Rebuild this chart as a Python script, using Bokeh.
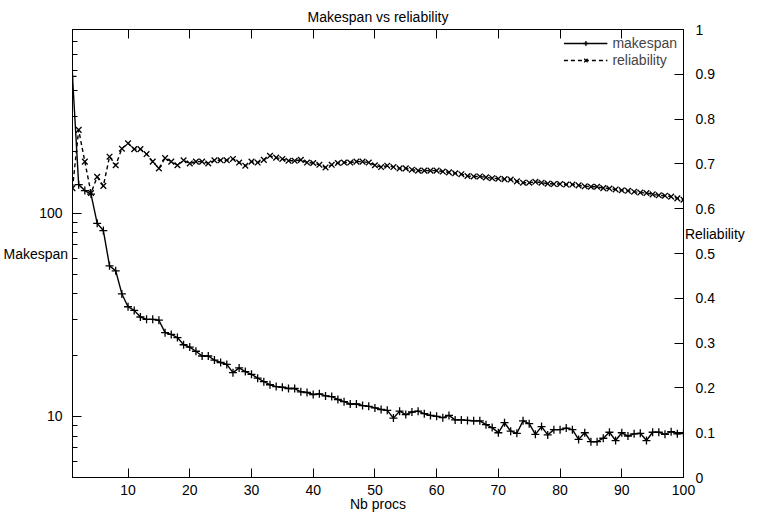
from bokeh.plotting import figure
from bokeh.models import (Range1d, LinearAxis, LinearScale, FixedTicker, PrintfTickFormatter,
                          Legend, LegendItem, ColumnDataSource)
from bokeh.embed import file_html
from bokeh.resources import INLINE

FONT = "Liberation Sans"

nb_procs = list(range(1, 101))

makespan = [
    470, 138, 129, 124, 89, 82, 55, 52, 40, 34.6,
    33.2, 30.8, 30.0, 30.0, 29.7, 25.8, 25.3, 24.4, 22.5, 21.9,
    20.9, 19.8, 19.8, 18.9, 18.4, 18.0, 16.4, 17.3, 16.6, 16.1,
    15.4, 14.8, 14.3, 14.0, 13.9, 13.7, 13.7, 13.2, 13.1, 12.8,
    12.9, 12.6, 12.5, 12.1, 11.8, 11.5, 11.5, 11.3, 11.2, 11.0,
    10.8, 10.7, 9.8, 10.6, 10.2, 10.5, 10.6, 10.3, 10.1, 10.0,
    9.85, 10.1, 9.6, 9.6, 9.55, 9.5, 9.5, 9.1, 8.8, 8.3,
    9.3, 8.45, 8.25, 9.5, 9.2, 8.15, 8.9, 8.1, 8.6, 8.6,
    8.75, 8.6, 7.7, 8.3, 7.5, 7.5, 7.8, 8.35, 7.6, 8.3,
    8.0, 8.2, 8.25, 7.6, 8.35, 8.35, 8.15, 8.4, 8.2, 8.25,
]

reliability = [
    0.646, 0.776, 0.705, 0.635, 0.671, 0.651, 0.716, 0.697, 0.734, 0.746,
    0.733, 0.733, 0.722, 0.705, 0.690, 0.713, 0.705, 0.697, 0.708, 0.701,
    0.705, 0.705, 0.701, 0.708, 0.708, 0.708, 0.711, 0.703, 0.696, 0.705,
    0.703, 0.709, 0.718, 0.714, 0.711, 0.707, 0.707, 0.709, 0.703, 0.702,
    0.698, 0.692, 0.698, 0.702, 0.703, 0.703, 0.705, 0.705, 0.703, 0.697,
    0.693, 0.696, 0.693, 0.690, 0.690, 0.687, 0.685, 0.685, 0.685, 0.685,
    0.683, 0.681, 0.679, 0.677, 0.673, 0.672, 0.672, 0.670, 0.668, 0.667,
    0.666, 0.665, 0.661, 0.658, 0.658, 0.660, 0.658, 0.656, 0.655, 0.655,
    0.654, 0.654, 0.652, 0.650, 0.649, 0.649, 0.646, 0.645, 0.643, 0.641,
    0.640, 0.638, 0.636, 0.635, 0.632, 0.630, 0.629, 0.627, 0.623, 0.620,
]

x_ticks = [10, 20, 30, 40, 50, 60, 70, 80, 90, 100]
y_ticks = [10, 100]
y_minor_ticks = [5, 6, 7, 8, 9, 20, 30, 40, 50, 60, 70, 80, 90,
                 200, 300, 400, 500, 600, 700, 800]
y2_ticks = [0, 0.1, 0.2, 0.3, 0.4, 0.5, 0.6, 0.7, 0.8, 0.9, 1]

src = ColumnDataSource(dict(x=nb_procs, m=makespan, r=reliability))

p = figure(width=747, height=514, output_backend="svg", toolbar_location=None,
           x_range=Range1d(1, 100), y_range=Range1d(5, 800), y_axis_type="log",
           min_border_left=70, min_border_right=62, min_border_top=29,
           min_border_bottom=37, title="Makespan vs reliability")
p.extra_y_ranges = {"rel": Range1d(0, 1)}
p.extra_y_scales = {"rel": LinearScale()}
p.grid.visible = False
p.outline_line_color = "black"
p.outline_line_width = 1

p.title.align = "center"
p.title.text_font = FONT
p.title.text_font_size = "14px"
p.title.text_font_style = "normal"
p.title.text_color = "black"

def style_axis(ax):
    ax.axis_line_color = "black"
    ax.major_tick_line_color = "black"
    ax.minor_tick_line_color = "black"
    ax.major_tick_in = 9
    ax.major_tick_out = 0
    ax.minor_tick_in = 5
    ax.minor_tick_out = 0
    ax.major_label_text_font = FONT
    ax.major_label_text_font_size = "14px"
    ax.major_label_text_color = "black"
    ax.axis_label_text_font = FONT
    ax.axis_label_text_font_size = "14px"
    ax.axis_label_text_font_style = "normal"
    ax.axis_label_text_color = "black"

xa = p.xaxis[0]
style_axis(xa)
xa.ticker = FixedTicker(ticks=x_ticks)
xa.major_label_standoff = 7
xa.axis_label = "Nb procs"
xa.axis_label_standoff = -2

ya = p.yaxis[0]
style_axis(ya)
ya.ticker = FixedTicker(ticks=y_ticks, minor_ticks=y_minor_ticks)
ya.formatter = PrintfTickFormatter(format="%d")
ya.major_label_standoff = 10
ya.axis_label = "Makespan"
ya.axis_label_orientation = "horizontal"
ya.axis_label_standoff = -32

y2 = LinearAxis(y_range_name="rel", ticker=FixedTicker(ticks=y2_ticks),
                formatter=PrintfTickFormatter(format="%g"))
style_axis(y2)
y2.major_label_standoff = 12
y2.axis_label = "Reliability\n\n"
y2.axis_label_orientation = "horizontal"
y2.axis_label_standoff = -33
p.add_layout(y2, "right")

top = LinearAxis(ticker=FixedTicker(ticks=x_ticks), major_label_text_alpha=0)
style_axis(top)
top.major_label_text_font_size = "1px"
top.major_label_standoff = 0
p.add_layout(top, "above")

l1 = p.line("x", "m", source=src, line_color="black", line_width=1.4)
s1 = p.scatter("x", "m", source=src, marker="cross", size=8, line_color="black",
               line_width=1.3)
l2 = p.line("x", "r", source=src, line_color="black", line_width=1.4,
            line_dash="4 3", y_range_name="rel")
s2 = p.scatter("x", "r", source=src, marker="x", size=8, line_color="black",
               line_width=1.3, y_range_name="rel")

legend = Legend(items=[LegendItem(label="makespan", renderers=[l1, s1]),
                       LegendItem(label="reliability", renderers=[l2, s2])],
                location="top_right", border_line_color=None,
                background_fill_alpha=0, label_text_font=FONT,
                label_text_font_size="14px", glyph_width=44, glyph_height=12,
                label_height=12, spacing=1, padding=3, margin=6)
p.add_layout(legend)

open("out.html", "w").write(file_html(p, INLINE))
